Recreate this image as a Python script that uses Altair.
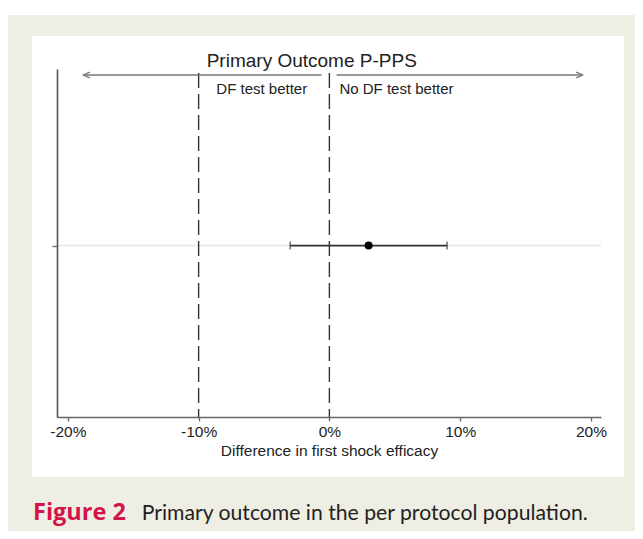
import altair as alt
import pandas as pd

# ---- data ----
x_ticks = [-20, -10, 0, 10, 20]
ref_lines = [-10, 0]
ref_labels = ["DF test better", "No DF test better"]
estimate = [3.0]
ci_low = [-3.0]
ci_high = [9.0]
row_y = [1]
arrow_left = [-18.85, -0.6]
arrow_right = [0.55, 19.4]
title_text = "Primary Outcome P-PPS"
x_title = "Difference in first shock efficacy"
caption_bold = "Figure 2"
caption_rest = "Primary outcome in the per protocol population."

W, H = 544, 348
XDOM = [-20.83, 20.77]
YDOM = [0, 2.03]
FONT = "Liberation Sans"
one = pd.DataFrame({"a": [0]})

xs = alt.Scale(domain=XDOM, nice=False, zero=False)
ys = alt.Scale(domain=YDOM, nice=False, zero=False)

bg = alt.Chart(one).mark_rect(color="#efeee4").encode(
    x=alt.value(-49), x2=alt.value(578), y=alt.value(-54), y2=alt.value(462))
panel = alt.Chart(one).mark_rect(color="white").encode(
    x=alt.value(-25), x2=alt.value(567), y=alt.value(-33), y2=alt.value(408))

est_df = pd.DataFrame({"est": estimate, "lo": ci_low, "hi": ci_high, "y": row_y})

base = alt.Chart(est_df).mark_point(opacity=0).encode(
    x=alt.X("est:Q", scale=xs, axis=alt.Axis(
        values=x_ticks, labelExpr="datum.value + '%'", title=x_title,
        grid=False, zindex=1, domainColor="#666", domainWidth=1.5,
        tickColor="#666", tickWidth=1.3, tickSize=4,
        labelFont=FONT, labelFontSize=15.5, labelColor="#222", labelPadding=3,
        labelFlush=False, labelOverlap=False,
        titleFont=FONT, titleFontSize=15.5, titleFontWeight="normal",
        titleColor="#222", titlePadding=4)),
    y=alt.Y("y:Q", scale=ys, axis=alt.Axis(
        values=row_y, labels=False, title=None, grid=False, zindex=1,
        domainColor="#555", domainWidth=1.6, tickColor="#666",
        tickWidth=1.3, tickSize=5)),
)

hline = alt.Chart(est_df).mark_rule(color="#e6e6e6", strokeWidth=1.5).encode(
    y=alt.Y("y:Q", scale=ys))

ref_df = pd.DataFrame({"x": ref_lines, "label": ref_labels})
dashed = alt.Chart(ref_df).mark_rule(
    color="#333", strokeWidth=1.4, strokeDash=[15, 6], strokeDashOffset=17
).encode(x=alt.X("x:Q", scale=xs))

lab1 = alt.Chart(ref_df.iloc[[0]]).mark_text(
    align="left", baseline="alphabetic", font=FONT, fontSize=15, color="#222", dx=17.7
).encode(x=alt.X("x:Q", scale=xs), y=alt.value(25.3), text="label:N")
lab2 = alt.Chart(ref_df.iloc[[1]]).mark_text(
    align="left", baseline="alphabetic", font=FONT, fontSize=15, color="#222", dx=10
).encode(x=alt.X("x:Q", scale=xs), y=alt.value(25.3), text="label:N")

arr_df = pd.DataFrame({"x": [arrow_left[0], arrow_right[0]],
                       "x2": [arrow_left[1], arrow_right[1]]})
arrow_line = alt.Chart(arr_df).mark_rule(color="#777", strokeWidth=1.3).encode(
    x=alt.X("x:Q", scale=xs), x2="x2:Q", y=alt.value(6))
head_l = alt.Chart(pd.DataFrame({"x": [arrow_left[0]]})).mark_point(
    shape="M0,0L1,-0.4M0,0L1,0.4", filled=False, size=196, color="#777",
    strokeWidth=1.3, opacity=1).encode(x=alt.X("x:Q", scale=xs), y=alt.value(6))
head_r = alt.Chart(pd.DataFrame({"x": [arrow_right[1]]})).mark_point(
    shape="M0,0L-1,-0.4M0,0L-1,0.4", filled=False, size=196, color="#777",
    strokeWidth=1.3, opacity=1).encode(x=alt.X("x:Q", scale=xs), y=alt.value(6))

title = alt.Chart(pd.DataFrame({"t": [title_text]})).mark_text(
    align="left", baseline="alphabetic", font=FONT, fontSize=19, color="#222"
).encode(x=alt.value(149.7), y=alt.value(-2.3), text="t:N")

ci = alt.Chart(est_df).mark_rule(color="#333", strokeWidth=1.8).encode(
    x=alt.X("lo:Q", scale=xs), x2="hi:Q", y=alt.Y("y:Q", scale=ys))
caps_df = pd.DataFrame({"x": ci_low + ci_high, "y": row_y * 2})
caps = alt.Chart(caps_df).mark_tick(
    orient="vertical", color="#333", size=8, thickness=1.5).encode(
    x=alt.X("x:Q", scale=xs), y=alt.Y("y:Q", scale=ys))
dot = alt.Chart(est_df).mark_circle(color="#000", size=64, opacity=1).encode(
    x=alt.X("est:Q", scale=xs), y=alt.Y("y:Q", scale=ys))

cap1 = alt.Chart(pd.DataFrame({"t": [caption_bold]})).mark_text(
    align="left", baseline="alphabetic", font="Open Sans", fontWeight="bold",
    fontSize=23.5, color="#d3134a"
).encode(x=alt.value(-24), y=alt.value(451), text="t:N")
cap2 = alt.Chart(pd.DataFrame({"t": [caption_rest]})).mark_text(
    align="left", baseline="alphabetic", font="Lato", fontSize=21.2, color="#231f20"
).encode(x=alt.value(84.7), y=alt.value(451), text="t:N")

chart = alt.layer(
    bg, panel, base, hline, dashed, arrow_line, head_l, head_r, lab1, lab2,
    title, ci, caps, dot, cap1, cap2
).properties(
    width=W, height=H,
    autosize=alt.AutoSizeParams(type="none"),
    padding={"left": 49, "top": 61, "right": 34, "bottom": 114},
    background="white",
).configure_view(stroke=None)

chart.save("out.html", embed_options={"renderer": "svg", "actions": False})
